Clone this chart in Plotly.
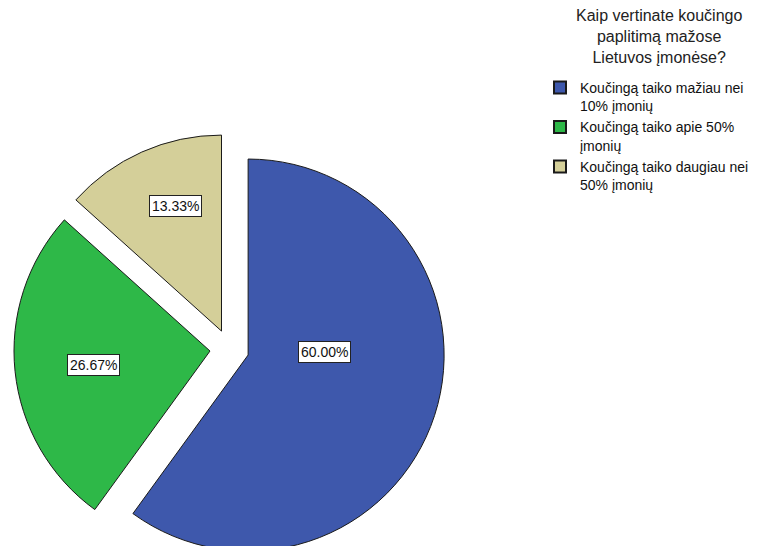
import math
import plotly.graph_objects as go

# Survey answers and their shares (%)
categories = [
    "Koučingą taiko mažiau nei<br>10% įmonių",
    "Koučingą taiko apie 50%<br>įmonių",
    "Koučingą taiko daugiau nei<br>50% įmonių",
]
shares = [60.00, 26.67, 13.33]
colors = ["#3E58AC", "#2EB848", "#D4CF99"]
legend_title = "Kaip vertinate koučingo<br>paplitimą mažose<br>Lietuvos įmonėse?"

FONT = "Arial, Liberation Sans"
W, H = 759, 570
pull = 0.1
dom_x = [0.0183, 0.5864]
dom_y = [0.0095, 0.766]

fig = go.Figure(go.Pie(
    labels=categories,
    values=shares,
    sort=False,
    direction="clockwise",
    rotation=0,
    pull=[pull] * len(shares),
    marker=dict(colors=colors, line=dict(color="#1a1a1a", width=1)),
    textinfo="none",
    hoverinfo="label+percent",
    domain=dict(x=dom_x, y=dom_y),
))

# pie geometry (same rules plotly uses) for placing the boxed percentage labels
box_w = W * (dom_x[1] - dom_x[0])
box_h = H * (dom_y[1] - dom_y[0])
r = min(box_w, box_h) / (2 + 2 * pull)
cx = W * (dom_x[0] + dom_x[1]) / 2
cy = H * (1 - (dom_y[0] + dom_y[1]) / 2)

# label radius (fraction of r) and angle shift from slice middle, per slice
label_place = [(0.39, -20), (0.60, -1), (0.68, 4)]

total = sum(shares)
start = 0.0
for val, (frac, dang) in zip(shares, label_place):
    span = 360 * val / total
    mid = math.radians(start + span / 2)
    ox = cx + pull * r * math.sin(mid)
    oy = cy - pull * r * math.cos(mid)
    la = math.radians(start + span / 2 + dang)
    lx = ox + frac * r * math.sin(la)
    ly = oy - frac * r * math.cos(la)
    fig.add_annotation(
        x=lx / W, y=1 - ly / H, xref="paper", yref="paper",
        xanchor="center", yanchor="middle",
        text=f"{val:.2f}%", showarrow=False,
        font=dict(family=FONT, size=14, color="#111111"),
        bgcolor="white", bordercolor="#222222", borderwidth=1, borderpad=2,
    )
    start += span

# legend heading, centred above the items
fig.add_annotation(
    x=659 / W, y=1 - 5 / H, xref="paper", yref="paper",
    xanchor="center", yanchor="top", align="center",
    text=legend_title, showarrow=False,
    font=dict(family=FONT, size=16, color="#222222"),
)

fig.update_layout(
    width=W, height=H,
    margin=dict(l=0, r=0, t=0, b=0),
    paper_bgcolor="white",
    plot_bgcolor="white",
    font=dict(family=FONT, color="#111111"),
    showlegend=True,
    legend=dict(
        x=540 / W, y=1 - 72 / H, xanchor="left", yanchor="top",
        font=dict(family=FONT, size=14, color="#111111"),
        valign="top",
        itemsizing="constant",
        bgcolor="rgba(0,0,0,0)",
    ),
)

fig.write_html(
    "out.html",
    post_script="document.body.style.margin='0';document.body.style.overflow='hidden';document.documentElement.style.overflow='hidden';",
)
